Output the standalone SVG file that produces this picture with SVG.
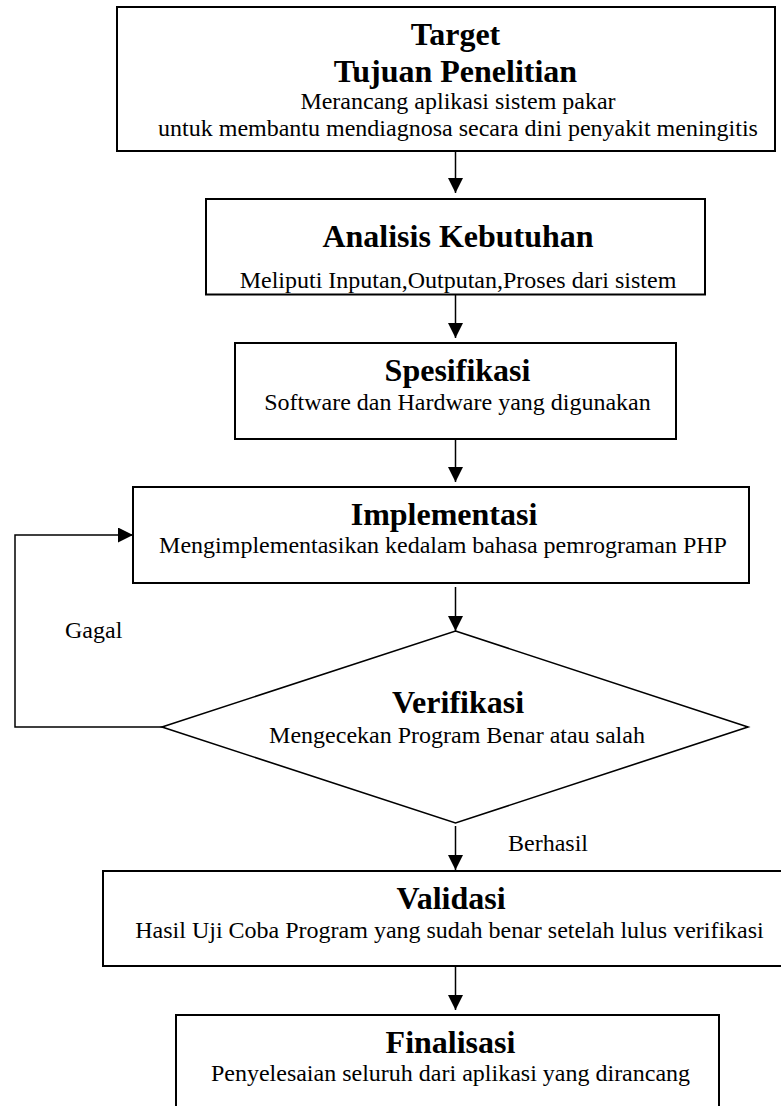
<svg xmlns="http://www.w3.org/2000/svg" width="781" height="1106" viewBox="0 0 781 1106">
<style>
.box{fill:#fff;stroke:#000;stroke-width:2}
.dia{fill:#fff;stroke:#000;stroke-width:1.6}
.t{font-family:"Liberation Serif","Times New Roman",serif;font-weight:bold;font-size:32px;fill:#000;text-anchor:middle}
.s{font-family:"Liberation Serif","Times New Roman",serif;font-size:24px;fill:#000;text-anchor:middle}
.l{font-family:"Liberation Serif","Times New Roman",serif;font-size:24px;fill:#000}
.c{fill:none;stroke:#000;stroke-width:1.5}
</style>
<defs>
<marker id="ah" markerUnits="userSpaceOnUse" markerWidth="15" markerHeight="15" refX="15" refY="7.5" orient="auto">
<path d="M0,0 L15,7.5 L0,15 z" fill="#000"/>
</marker>
<clipPath id="clipA"><rect x="206" y="199" width="499" height="94"/></clipPath>
</defs>
<rect width="781" height="1106" fill="#fff"/>
<g id="connectors">
<line class="c" x1="455.5" y1="151" x2="455.5" y2="193" marker-end="url(#ah)"/>
<line class="c" x1="455.5" y1="295" x2="455.5" y2="338" marker-end="url(#ah)"/>
<line class="c" x1="455.5" y1="439" x2="455.5" y2="482" marker-end="url(#ah)"/>
<line class="c" x1="455.5" y1="587" x2="455.5" y2="631" marker-end="url(#ah)"/>
<line class="c" x1="455.5" y1="826" x2="455.5" y2="870" marker-end="url(#ah)"/>
<line class="c" x1="455.5" y1="966" x2="455.5" y2="1010" marker-end="url(#ah)"/>
<polyline class="c" points="162,727 15,727 15,535 133,535" marker-end="url(#ah)"/>
<text class="l" x="65" y="638">Gagal</text>
<text class="l" x="508" y="850.5">Berhasil</text>
</g>
<g id="target">
<rect class="box" x="117" y="7" width="658" height="144"/>
<text class="t" x="455.5" y="45">Target</text>
<text class="t" x="455.5" y="81.5">Tujuan Penelitian</text>
<text class="s" x="458" y="109">Merancang aplikasi sistem pakar</text>
<text class="s" x="458" y="136">untuk membantu mendiagnosa secara dini penyakit meningitis</text>
</g>
<g id="analisis">
<rect class="box" x="206" y="199" width="499" height="95.5"/>
<text class="t" x="458" y="247">Analisis Kebutuhan</text>
<text class="s" x="458" y="287.5" clip-path="url(#clipA)">Meliputi Inputan,Outputan,Proses dari sistem</text>
</g>
<g id="spesifikasi">
<rect class="box" x="235" y="343" width="441" height="96"/>
<text class="t" x="457.5" y="381">Spesifikasi</text>
<text class="s" x="457.5" y="409.5">Software dan Hardware yang digunakan</text>
</g>
<g id="implementasi">
<rect class="box" x="133" y="487" width="616" height="96"/>
<text class="t" x="444" y="525">Implementasi</text>
<text class="s" x="443" y="553">Mengimplementasikan kedalam bahasa pemrograman PHP</text>
</g>
<g id="verifikasi">
<polygon class="dia" points="455.5,631 748,727 455.5,823 162,727"/>
<text class="t" x="458" y="713">Verifikasi</text>
<text class="s" x="457" y="743">Mengecekan Program Benar atau salah</text>
</g>
<g id="validasi">
<rect class="box" x="103" y="871" width="700" height="95"/>
<text class="t" x="451" y="908.5">Validasi</text>
<text class="s" x="449.5" y="937.5">Hasil Uji Coba Program yang sudah benar setelah lulus verifikasi</text>
</g>
<g id="finalisasi">
<rect class="box" x="176" y="1015" width="543" height="110"/>
<text class="t" x="450.5" y="1052.5">Finalisasi</text>
<text class="s" x="450.5" y="1081">Penyelesaian seluruh dari aplikasi yang dirancang</text>
</g>
</svg>
